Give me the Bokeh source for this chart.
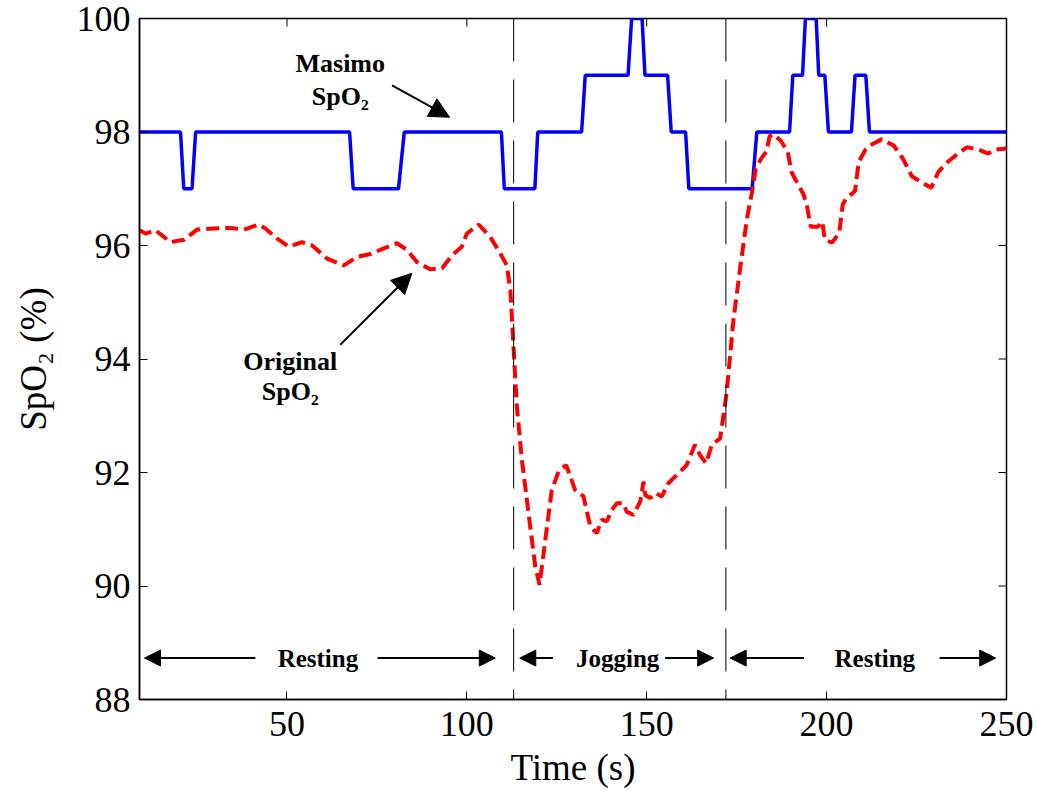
import math
from bokeh.plotting import figure
from bokeh.models import Range1d, FixedTicker, Span, Arrow, NormalHead, ColumnDataSource
from bokeh.core.properties import value
from bokeh.embed import file_html
from bokeh.resources import INLINE

# ---- data ----
masimo_t = [9, 20.4, 21.3, 23.6, 24.6, 67.4, 68.4, 81, 82.6, 109.6, 110.4, 118.9, 119.7,
            131.9, 132.9, 144.8, 145.8, 148.7, 149.5, 155.8, 156.8, 160.8, 161.7, 179.3,
            180.6, 189.7, 190.6, 193.3, 194.1, 197.1, 197.8, 199.5, 200.5, 206.9, 207.9,
            210.9, 211.9, 250]
masimo_v = [98, 98, 97, 97, 98, 98, 97, 97, 98, 98, 97, 97, 98, 98, 99, 99, 100, 100, 99,
            99, 98, 98, 97, 97, 98, 98, 99, 99, 100, 100, 99, 99, 98, 98, 99, 99, 98, 98]

orig_t = [9, 10.7, 13.4, 17.6, 21.3, 25, 29.6, 34.3, 38, 42.1, 44, 47.3, 50.5, 54.2, 57,
          61.1, 65.8, 69.5, 73.2, 76.9, 80.6, 83.4, 86.1, 89.8, 93.1, 95.9, 98.6, 100,
          103.3, 106.5, 109.3, 111.1, 112.1, 113, 113.9, 115.3, 117.6, 119, 120.2, 121.8,
          123.6, 125.5, 127.6, 130.1, 132.4, 134.3, 136.1, 137.5, 138.9, 140.3, 141.7,
          143.5, 144.4, 146.3, 148.2, 149.1, 149.6, 151, 152.3, 154.2, 156, 158.4, 161.1,
          163.4, 164.8, 166.5, 168.1, 170.4, 172.2, 174.1, 175.9, 177.8, 179.3, 180.3,
          181.8, 183.2, 184.2, 185.2, 187.2, 189.2, 190.2, 191.1, 193.6, 194.6, 195.6,
          197.6, 198.8, 199.5, 201.5, 203.5, 204.5, 205.4, 207.9, 208.9, 210.9, 212.8,
          215.3, 218.7, 221.2, 223.7, 226.7, 229.1, 231.1, 233.6, 236.5, 239, 241.9,
          244.9, 246.9, 250]
orig_v = [96.27, 96.21, 96.27, 96.06, 96.10, 96.28, 96.30, 96.31, 96.28, 96.37, 96.30,
          96.12, 95.98, 96.06, 96.00, 95.77, 95.65, 95.80, 95.85, 95.95, 96.04, 95.92,
          95.71, 95.58, 95.60, 95.83, 95.98, 96.21, 96.37, 96.15, 95.86, 95.65, 95.21,
          94.16, 93.16, 92.22, 91.05, 90.35, 90.02, 90.81, 91.69, 92.02, 92.13, 91.69,
          91.58, 91.05, 90.93, 91.17, 91.14, 91.34, 91.46, 91.46, 91.31, 91.25, 91.49,
          91.84, 91.60, 91.55, 91.64, 91.58, 91.81, 91.96, 92.13, 92.49, 92.31, 92.16,
          92.49, 92.60, 93.40, 94.69, 95.57, 96.45, 96.96, 97.36, 97.53, 97.65, 97.93,
          97.96, 97.85, 97.65, 97.30, 97.19, 96.90, 96.67, 96.33, 96.33, 96.42, 96.10,
          96.05, 96.22, 96.73, 96.82, 96.96, 97.47, 97.70, 97.79, 97.87, 97.76, 97.53,
          97.22, 97.10, 97.02, 97.30, 97.47, 97.62, 97.73, 97.70, 97.62, 97.69, 97.71]

x_ticks = [50, 100, 150, 200, 250]
y_ticks = [88, 90, 92, 94, 96, 98, 100]
x_min, x_max = 9, 250
y_min, y_max = 88, 100
phase_bounds = [113, 172]

label_text = ["Masimo", "SpO\u2082", "Original", "SpO\u2082"]
label_t = [64.8, 64.8, 50.9, 50.9]
label_v = [99.2, 98.62, 93.95, 93.42]

pointer_start_t = [79.2, 64.8]
pointer_start_v = [98.82, 94.25]
pointer_end_t = [95.2, 84.7]
pointer_end_v = [98.26, 95.51]

phase_names = ["Resting", "Jogging", "Resting"]
phase_center_t = [58.6, 141.9, 213.4]
phase_y = 88.73
phase_arrow_from = [41.2, 75.2, 123.9, 155.1, 193.7, 231.4]
phase_arrow_to = [10.4, 107.9, 114.7, 168.6, 173.2, 247.0]

FONT = "Liberation Serif"

p = figure(width=1037, height=790, output_backend="svg", toolbar_location=None,
           x_range=Range1d(x_min, x_max), y_range=Range1d(y_min, y_max),
           min_border_left=139, min_border_right=31, min_border_top=18, min_border_bottom=90)
p.background_fill_color = "white"
p.border_fill_color = "white"
p.outline_line_color = "black"
p.outline_line_width = 1.5
p.outline_line_alpha = 1.0
p.grid.visible = False

for ax in [p.xaxis[0], p.yaxis[0]]:
    ax.major_label_text_font = FONT
    ax.major_label_text_font_size = "36px"
    ax.major_label_text_color = "black"
    ax.axis_label_text_font = FONT
    ax.axis_label_text_font_size = "37px"
    ax.axis_label_text_font_style = "normal"
    ax.axis_label_text_color = "black"
    ax.major_tick_in = 8
    ax.major_tick_out = 0
    ax.minor_tick_in = 0
    ax.minor_tick_out = 0
    ax.axis_line_color = "black"
    ax.axis_line_width = 1.5
    ax.major_tick_line_color = "black"

p.xaxis[0].ticker = FixedTicker(ticks=x_ticks)
p.yaxis[0].ticker = FixedTicker(ticks=y_ticks)
p.xaxis[0].axis_label = "Time (s)"
p.yaxis[0].axis_label = "SpO\u2082 (%)"
p.xaxis[0].major_label_standoff = 12
p.xaxis[0].axis_label_standoff = 8
p.yaxis[0].major_label_standoff = 9
p.yaxis[0].axis_label_standoff = 20

# mirrored inward ticks on top and right edges
p.ray(x=x_ticks, y=[y_max] * len(x_ticks), length=8, length_units="screen",
      angle=-math.pi / 2, line_color="black", line_width=1)
p.ray(x=[x_max] * len(y_ticks), y=y_ticks, length=8, length_units="screen",
      angle=math.pi, line_color="black", line_width=1)

for b in phase_bounds:
    p.add_layout(Span(location=b, dimension="height", line_color="black",
                      line_width=1, line_dash="43 18"))

p.line(masimo_t, masimo_v, line_color="#0000ff", line_width=3.5)
p.line(orig_t, orig_v, line_color="#ff0000", line_width=4, line_dash="13 6")

lab = ColumnDataSource(dict(x=label_t, y=label_v, text=label_text))
p.text("x", "y", text="text", source=lab, text_font=value(FONT), text_font_style="bold",
       text_font_size="26px", text_align="center", text_baseline="middle", text_color="black")

for i in range(len(pointer_start_t)):
    p.add_layout(Arrow(end=NormalHead(size=20, fill_color="black", line_color="black"),
                       x_start=pointer_start_t[i], y_start=pointer_start_v[i],
                       x_end=pointer_end_t[i], y_end=pointer_end_v[i],
                       line_color="black", line_width=2))

ph = ColumnDataSource(dict(x=phase_center_t, y=[phase_y] * 3, text=phase_names))
p.text("x", "y", text="text", source=ph, text_font=value(FONT), text_font_style="bold",
       text_font_size="25px", text_align="center", text_baseline="middle", text_color="black")

for a, b in zip(phase_arrow_from, phase_arrow_to):
    p.add_layout(Arrow(end=NormalHead(size=16, fill_color="black", line_color="black"),
                       x_start=a, y_start=phase_y, x_end=b, y_end=phase_y,
                       line_color="black", line_width=2))

open("out.html", "w").write(file_html(p, INLINE))
